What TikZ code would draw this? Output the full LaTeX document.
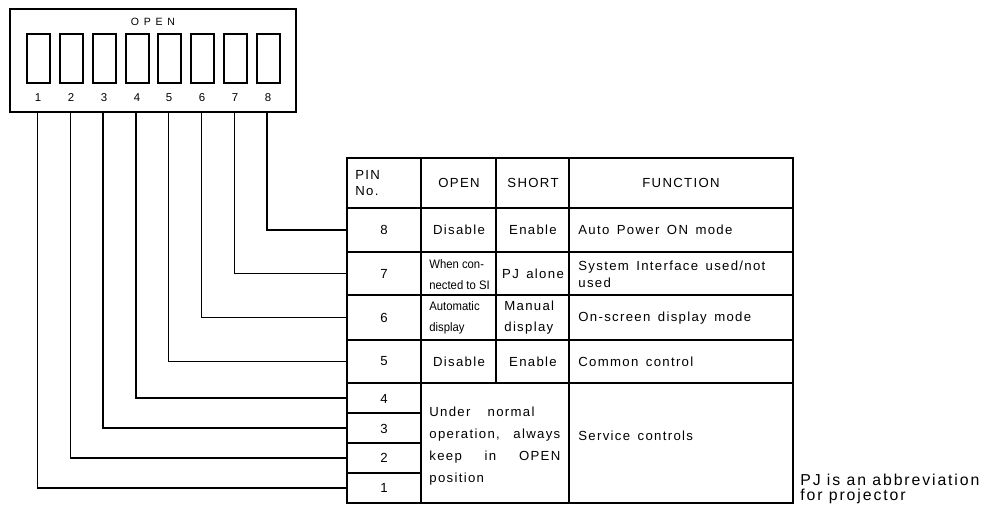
\documentclass[tikz,border=0pt]{standalone}
\usepackage{fontspec}
\setmainfont{Liberation Sans}[LetterSpace=10,WordSpace=1.5]
\newfontfamily\narrowfont{Liberation Sans}[FakeStretch=0.92]
\newfontfamily\spacedfont{Liberation Sans}[LetterSpace=45]
\newfontfamily\notefont{Liberation Sans}[LetterSpace=12]
\tikzset{
  cell/.style={font=\fontsize{7.5}{9.6}\selectfont, inner sep=0pt},
  smallcell/.style={font=\narrowfont\fontsize{7}{12}\selectfont, inner sep=0pt, align=left, anchor=west},
  pinnum/.style={font=\fontsize{6.5}{8}\selectfont, inner sep=0pt},
  wire/.style={line width=0.9pt},
  swbox/.style={line width=0.9pt},
}
\begin{document}
\begin{tikzpicture}[x=0.02cm,y=-0.02cm]
\useasboundingbox (0,0) rectangle (993,506);
% DIP switch
\draw[line width=1.2pt] (10,9) rectangle (296,112);
\node[font=\spacedfont\fontsize{6}{7}\selectfont, inner sep=0pt] (openlbl) at (153,22) {OPEN};
\draw[swbox] (27,34) rectangle (50,83);
\draw[swbox] (60,34) rectangle (83,83);
\draw[swbox] (93,34) rectangle (116,83);
\draw[swbox] (126,34) rectangle (149,83);
\draw[swbox] (158,34) rectangle (181,83);
\draw[swbox] (191,34) rectangle (214,83);
\draw[swbox] (224,34) rectangle (247,83);
\draw[swbox] (257,34) rectangle (280,83);
\node[pinnum] (d1) at (38,98) {1};
\node[pinnum] (d2) at (71,98) {2};
\node[pinnum] (d3) at (104,98) {3};
\node[pinnum] (d4) at (137,98) {4};
\node[pinnum] (d5) at (169,98) {5};
\node[pinnum] (d6) at (202,98) {6};
\node[pinnum] (d7) at (235,98) {7};
\node[pinnum] (d8) at (268,98) {8};
% pin ends and table entries
\coordinate (p1) at (37.5,112);
\coordinate (p2) at (70.3,112);
\coordinate (p3) at (103.1,112);
\coordinate (p4) at (135.9,112);
\coordinate (p5) at (168.7,112);
\coordinate (p6) at (201.5,112);
\coordinate (p7) at (234.3,112);
\coordinate (p8) at (267.1,112);
\coordinate (r1) at (347,488);
\coordinate (r2) at (347,458);
\coordinate (r3) at (347,428);
\coordinate (r4) at (347,398);
\coordinate (r5) at (347,361.5);
\coordinate (r6) at (347,317.5);
\coordinate (r7) at (347,273.5);
\coordinate (r8) at (347,230);
\draw[wire] (p1) |- (r1);
\draw[wire] (p2) |- (r2);
\draw[wire] (p3) |- (r3);
\draw[wire] (p4) |- (r4);
\draw[wire] (p5) |- (r5);
\draw[wire] (p6) |- (r6);
\draw[wire] (p7) |- (r7);
\draw[wire] (p8) |- (r8);
% table
\draw[line width=1pt] (347,158) rectangle (793,503);
\draw[wire] (347,208) -- (793,208);
\draw[wire] (347,252) -- (793,252);
\draw[wire] (347,295) -- (793,295);
\draw[wire] (347,340) -- (793,340);
\draw[wire] (347,383) -- (793,383);
\draw[wire] (347,413) -- (421,413);
\draw[wire] (347,443) -- (421,443);
\draw[wire] (347,473) -- (421,473);
\draw[wire] (421,158) -- (421,503);
\draw[wire] (496,158) -- (496,383);
\draw[wire] (569,158) -- (569,503);
% header
\node[cell, align=left, anchor=west] (pinno) at (355,183) {PIN\\No.};
\node[cell] (hopen) at (459,183) {OPEN};
\node[cell] (hshort) at (533,183) {SHORT};
\node[cell] (hfunc) at (681,183) {FUNCTION};
% rows
\node[cell] (n8) at (384,230) {8};
\node[cell] (o8) at (459,230) {Disable};
\node[cell] (s8) at (533,230) {Enable};
\node[cell, anchor=west] (f8) at (578,230) {Auto Power ON mode};
\node[cell] (n7) at (384,273.5) {7};
\node[smallcell] (o7) at (429,275) {When con-\\nected to SI};
\node[cell] (s7) at (533,273.5) {PJ alone};
\node[cell, align=left, anchor=west] (f7) at (578,274) {System Interface used/not\\used};
\node[cell] (n6) at (384,317.5) {6};
\node[smallcell] (o6) at (429,318) {Automatic\\display};
\node[cell, align=left, anchor=west, font=\fontsize{7.5}{12}\selectfont] (s6) at (504,318) {Manual\\display};
\node[cell, anchor=west] (f6) at (578,318) {On-screen display mode};
\node[cell] (n5) at (384,361.5) {5};
\node[cell] (o5) at (459,361.5) {Disable};
\node[cell] (s5) at (533,361.5) {Enable};
\node[cell, anchor=west] (f5) at (578,361.5) {Common control};
\node[cell] (n4) at (384,399) {4};
\node[cell] (n3) at (384,429) {3};
\node[cell] (n2) at (384,458) {2};
\node[cell] (n1) at (384,488) {1};
\node[cell, anchor=west, text width=2.62cm, align=justify, font=\fontsize{7.5}{12.4}\selectfont] (o4) at (429,446)
  {Under\hspace{1.3em}normal\\operation,\hfill always\\keep\hfill in\hfill OPEN\\position};
\node[cell, anchor=west] (f4) at (578,436) {Service controls};
% note
\node[font=\notefont\fontsize{9}{8.6}\selectfont, inner sep=0pt, align=left, anchor=west] (note) at (800,489) {PJ is an abbreviation\\for projector};
\end{tikzpicture}
\end{document}
